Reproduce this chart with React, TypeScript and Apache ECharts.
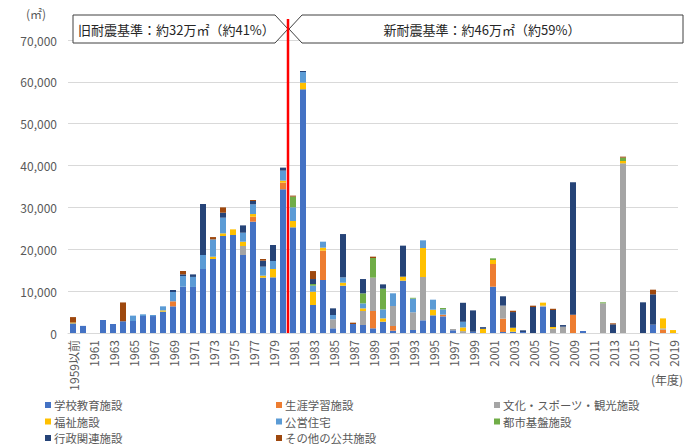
import React, { useEffect, useRef } from "react";
import * as echarts from "echarts";

const categories = [
  "1959以前", "1960", "1961", "1962", "1963", "1964", "1965", "1966", "1967", "1968",
  "1969", "1970", "1971", "1972", "1973", "1974", "1975", "1976", "1977", "1978",
  "1979", "1980", "1981", "1982", "1983", "1984", "1985", "1986", "1987", "1988",
  "1989", "1990", "1991", "1992", "1993", "1994", "1995", "1996", "1997", "1998",
  "1999", "2000", "2001", "2002", "2003", "2004", "2005", "2006", "2007", "2008",
  "2009", "2010", "2011", "2012", "2013", "2014", "2015", "2016", "2017", "2018",
  "2019",
];

const school = [2300,1700,0,3100,2150,2800,2870,4060,4050,5100, 6370,11060,11000,15290,17680,23170,23410,18630,26590,13220, 13300,34330,25250,58220,6690,12660,1120,11300,2150,1910, 1120,2700,550,12500,720,3030,4220,3980,650,0, 300,0,11060,240,300,240,0,6290,0,0, 0,480,0,0,0,0,0,0,1990,0, 0];
const lifelong = [0,0,0,0,0,0,0,0,0,0, 1200,0,0,0,0,0,0,0,1190,0, 0,1590,0,0,0,7010,0,0,0,0, 4140,0,1120,0,0,0,0,400,0,0, 0,0,5420,3190,0,0,0,0,0,0, 4380,0,0,0,0,0,0,0,0,800, 0];
const culture = [0,0,0,0,0,0,0,0,0,0, 0,0,0,0,0,0,0,2150,0,0, 0,0,0,0,0,0,2150,0,0,3340, 7960,0,4780,0,4220,10350,0,0,300,450, 0,0,0,3110,0,0,0,240,1030,1500, 0,0,0,7090,0,40530,0,0,0,300, 0];
const welfare = [200,0,0,0,0,0,0,0,0,300, 0,0,0,0,550,640,1350,1030,640,480, 1990,480,1510,1590,3180,720,0,720,0,640, 0,800,0,960,0,6930,1350,0,0,880, 0,1000,960,0,960,0,0,720,400,0, 0,0,0,0,0,560,0,0,0,2390, 700];
const housing = [0,0,0,0,0,0,1280,400,250,970, 2230,2550,2400,3340,4140,3740,0,2150,2310,2150, 1910,2390,3270,2550,1430,1430,1030,1270,0,1190, 0,2150,3030,0,3270,1830,2390,1270,0,1350, 0,0,0,0,0,0,0,0,0,0, 0,0,0,0,0,0,0,0,0,0, 0];
const infra = [0,0,0,0,0,0,0,0,0,0, 0,0,0,0,0,0,0,0,0,0, 0,0,2550,0,400,0,0,0,0,2390, 4700,4940,0,0,200,0,0,320,0,0, 0,0,400,0,0,0,0,0,0,0, 0,0,0,240,0,800,0,0,0,0, 0];
const admin = [0,0,0,0,0,0,0,0,0,0, 470,400,600,12190,0,1190,0,1750,800,1430, 3820,720,0,240,1190,0,1590,10350,0,3420, 0,1030,0,7410,0,0,0,0,0,4540, 5100,400,0,2230,3740,400,6210,0,4060,400, 31620,0,0,0,2070,0,0,7330,7250,0, 0];
const other = [1300,0,0,0,0,4500,0,0,0,0, 0,800,0,0,550,1270,0,0,240,400, 0,0,240,0,1910,0,0,0,320,0, 320,0,0,0,0,0,0,0,0,0, 0,0,0,0,320,0,320,0,300,0, 0,0,0,0,240,240,0,0,1110,0, 0];

const seriesNames = [
  "学校教育施設", "生涯学習施設", "文化・スポーツ・観光施設", "福祉施設",
  "公営住宅", "都市基盤施設", "行政関連施設", "その他の公共施設",
];
const seriesData = [school, lifelong, culture, welfare, housing, infra, admin, other];
const seriesColors = ["#4472C4", "#ED7D31", "#A5A5A5", "#FFC000", "#5B9BD5", "#70AD47", "#264478", "#9E480E"];

const oldLabel = "旧耐震基準：約32万㎡（約41%）";
const newLabel = "新耐震基準：約46万㎡（約59%）";
const yMax = 70000;
const yInterval = 10000;

const FONT = "Noto Sans CJK JP";

export default function App() {
  const ref = useRef<HTMLDivElement>(null);
  useEffect(() => {
    if (!ref.current) return;
    const chart = echarts.init(ref.current, undefined, { renderer: "svg" });
    const colLeft = [45, 276, 494];
    const rowTop = [399, 415.5, 432];
    const legends = seriesNames.map((name, i) => ({
      orient: "horizontal",
      icon: "rect",
      itemWidth: 6,
      itemHeight: 6,
      padding: 0,
      left: colLeft[i % 3],
      top: rowTop[Math.floor(i / 3)],
      data: [name],
      selectedMode: false,
      textStyle: { fontFamily: FONT, fontSize: 11.4, lineHeight: 12, color: "#595959", padding: [0, 0, 0, -2] },
    }));
    chart.setOption({
      animation: false,
      backgroundColor: "#ffffff",
      textStyle: { fontFamily: FONT },
      grid: { left: 68, right: 8, top: 40, bottom: 114, containLabel: false },
      legend: legends,
      xAxis: {
        type: "category",
        data: categories,
        axisLine: { lineStyle: { color: "#D9D9D9" } },
        axisTick: { show: false },
        axisLabel: {
          interval: 1,
          rotate: 90,
          fontFamily: FONT,
          fontSize: 12,
          color: "#595959",
          margin: 7,
        },
      },
      yAxis: {
        type: "value",
        min: 0,
        max: yMax,
        interval: yInterval,
        axisLine: { show: false },
        axisTick: { show: false },
        splitLine: { lineStyle: { color: "#D9D9D9" } },
        axisLabel: {
          fontFamily: FONT,
          fontSize: 12,
          color: "#595959",
          margin: 11,
          formatter: (v: number) => v.toLocaleString("en-US"),
        },
      },
      series: seriesNames.map((name, i) => ({
        name,
        type: "bar",
        stack: "total",
        barWidth: 6,
        data: seriesData[i],
        itemStyle: { color: seriesColors[i] },
      })),
    });

    const x1980 = chart.convertToPixel({ xAxisIndex: 0 }, "1980") as number;
    const x1981 = chart.convertToPixel({ xAxisIndex: 0 }, "1981") as number;
    const lineX = (x1980 + x1981) / 2;
    const y0 = chart.convertToPixel({ yAxisIndex: 0 }, 0) as number;
    const boxTop = 15;
    const boxBottom = 43;
    const boxMid = (boxTop + boxBottom) / 2;

    chart.setOption({
      graphic: [
        {
          type: "text",
          left: 26,
          top: 7,
          style: { text: "(㎡)", fontFamily: FONT, fontSize: 12, fill: "#595959" },
        },
        {
          type: "text",
          right: 3,
          top: 373,
          style: { text: "(年度)", fontFamily: FONT, fontSize: 12, fill: "#595959" },
        },
        {
          type: "polygon",
          shape: {
            points: [
              [73, boxTop], [lineX - 13, boxTop], [lineX, boxMid], [lineX - 13, boxBottom], [73, boxBottom],
            ],
          },
          style: { fill: "#ffffff", stroke: "#404040", lineWidth: 1 },
          z: 10,
        },
        {
          type: "polygon",
          shape: {
            points: [
              [lineX + 14, boxTop], [683, boxTop], [683, boxBottom], [lineX + 14, boxBottom], [lineX + 1, boxMid],
            ],
          },
          style: { fill: "#ffffff", stroke: "#404040", lineWidth: 1 },
          z: 10,
        },
        {
          type: "text",
          x: 78,
          y: boxMid,
          style: {
            text: oldLabel, fontFamily: FONT, fontSize: 13, fill: "#262626",
            verticalAlign: "middle", align: "left",
          },
          z: 11,
        },
        {
          type: "text",
          x: 482,
          y: boxMid,
          style: {
            text: newLabel, fontFamily: FONT, fontSize: 13, fill: "#262626",
            verticalAlign: "middle", align: "center",
          },
          z: 11,
        },
        {
          type: "line",
          shape: { x1: lineX, y1: 19, x2: lineX, y2: y0 },
          style: { stroke: "#FF0000", lineWidth: 2.5 },
          z: 12,
        },
      ],
    });

    return () => chart.dispose();
  }, []);
  return (
    <div
      ref={ref}
      style={{ position: "fixed", left: 0, top: 0, width: 686, height: 447, background: "#fff" }}
    />
  );
}
